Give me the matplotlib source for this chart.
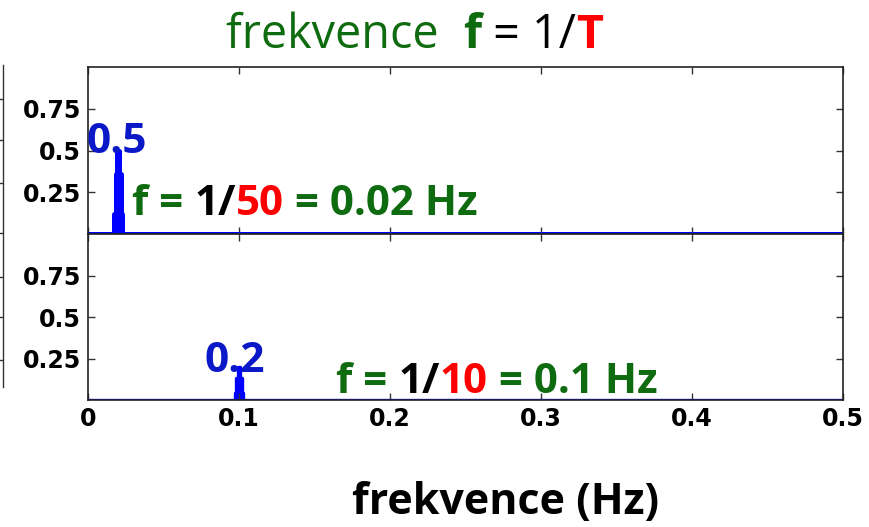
import matplotlib
matplotlib.use("Agg")
import matplotlib.pyplot as plt
import numpy as np

# spectrum bins around each peak (Hz) and their magnitudes
freq_top = [0.0, 0.0167, 0.0178, 0.0189, 0.0200, 0.0211, 0.0222, 0.0233, 0.5]
amp_top = [0.0, 0.0, 0.12, 0.36, 0.50, 0.36, 0.12, 0.0, 0.0]
freq_bot = [0.0, 0.0966, 0.0977, 0.0989, 0.1000, 0.1011, 0.1023, 0.1034, 0.5]
amp_bot = [0.0, 0.0, 0.04, 0.13, 0.20, 0.13, 0.04, 0.0, 0.0]

xticks = [0, 0.1, 0.2, 0.3, 0.4, 0.5]
xticklabels = ["0", "0.1", "0.2", "0.3", "0.4", "0.5"]
yticks = [0.25, 0.5, 0.75]
yticklabels = ["0.25", "0.5", "0.75"]

title_parts = [("frekvence  ", "#0f6b0f", "normal"), ("f", "#0f6b0f", "bold"),
               (" = 1/", "black", "normal"), ("T", "red", "bold")]
note_top = [("f = ", "#0f6b0f"), ("1/", "black"), ("50", "red"), (" = 0.02 Hz", "#0f6b0f")]
note_bot = [("f = ", "#0f6b0f"), ("1/", "black"), ("10", "red"), (" = 0.1 Hz", "#0f6b0f")]
peak_top = "0.5"
peak_bot = "0.2"
xlabel = "frekvence (Hz)"

W, H = 869, 527
fig = plt.figure(figsize=(W / 100, H / 100), dpi=100)
renderer = fig.canvas.get_renderer()

BLUE_TXT = "#0a18c8"
FONT = ["Open Sans", "DejaVu Sans"]


def px_axes(left, top, right, bottom):
    return fig.add_axes([left / W, 1 - bottom / H, (right - left) / W, (bottom - top) / H])


def style_axes(ax, show_x):
    ax.set_xlim(0, 0.5)
    ax.set_ylim(0, 1)
    ax.set_xticks(xticks)
    ax.set_yticks(yticks)
    ax.set_yticklabels(yticklabels)
    if show_x:
        ax.set_xticklabels(xticklabels)
    else:
        ax.set_xticklabels([])
    ax.tick_params(direction="in", length=5, width=1.0, color="#333333",
                   top=True, right=True, labelsize=17, pad=5.2)
    for lab in ax.get_xticklabels() + ax.get_yticklabels():
        lab.set_fontweight("bold")
        lab.set_family("DejaVu Sans")
    for sp in ax.spines.values():
        sp.set_linewidth(1.2)
        sp.set_color("#222222")


def spectrum(ax, f, a, lw):
    ax.fill_between(f, a, step="mid", color="#0000ff", lw=0)
    ax.plot(f, a, drawstyle="steps-mid", color="#0000ff", lw=lw,
            solid_joinstyle="round", solid_capstyle="round")


ax1 = px_axes(88, 67, 843, 234)
ax2 = px_axes(88, 234, 843, 400)

spectrum(ax1, freq_top, amp_top, 3.6)
spectrum(ax2, freq_bot, amp_bot, 2.4)
style_axes(ax1, False)
style_axes(ax2, True)

# leftover axis edge from a neighbouring plot on the left
edge = px_axes(3, 65, 13, 387)
edge.set_ylim(387, 65)
edge.set_xticks([])
edge.set_yticks([99, 140, 183, 233, 277, 317, 360])
edge.set_yticklabels([])
edge.tick_params(axis="y", direction="out", length=3, width=1.0, color="#333333")
for name, sp in edge.spines.items():
    sp.set_visible(name == "left")
edge.spines["left"].set_color("#333333")
edge.spines["left"].set_linewidth(1.0)
edge.patch.set_alpha(0)


def text_width(s, **kw):
    t = fig.text(0, 0, s, **kw)
    w = t.get_window_extent(renderer).width
    t.remove()
    return w


def colored_line(x, y, parts, size, weight="bold"):
    # x, y: left edge / baseline in pixels from the top-left corner
    kw = dict(fontsize=size, family=FONT)
    off = 0.0
    for part in parts:
        s, c = part[0], part[1]
        wt = part[2] if len(part) > 2 else weight
        fig.text((x + off) / W, 1 - y / H, s, color=c, fontweight=wt,
                 ha="left", va="baseline", **kw)
        off += text_width(s + "|", fontweight=wt, **kw) - text_width("|", fontweight=wt, **kw)


colored_line(226, 48, title_parts, 33.7)
colored_line(132, 215, note_top, 30.3)
colored_line(336, 393, note_bot, 30.3)

fig.text(86 / W, 1 - 153 / H, peak_top, color=BLUE_TXT, fontsize=30.5, fontweight="bold",
         family=FONT, ha="left", va="baseline")
fig.text(205 / W, 1 - 372 / H, peak_bot, color=BLUE_TXT, fontsize=30.5, fontweight="bold",
         family=FONT, ha="left", va="baseline")

fig.text(352 / W, 1 - 514 / H, xlabel, color="black", fontsize=31, fontweight="bold",
         family=FONT, ha="left", va="baseline")

fig.savefig("out.png", dpi=100)
